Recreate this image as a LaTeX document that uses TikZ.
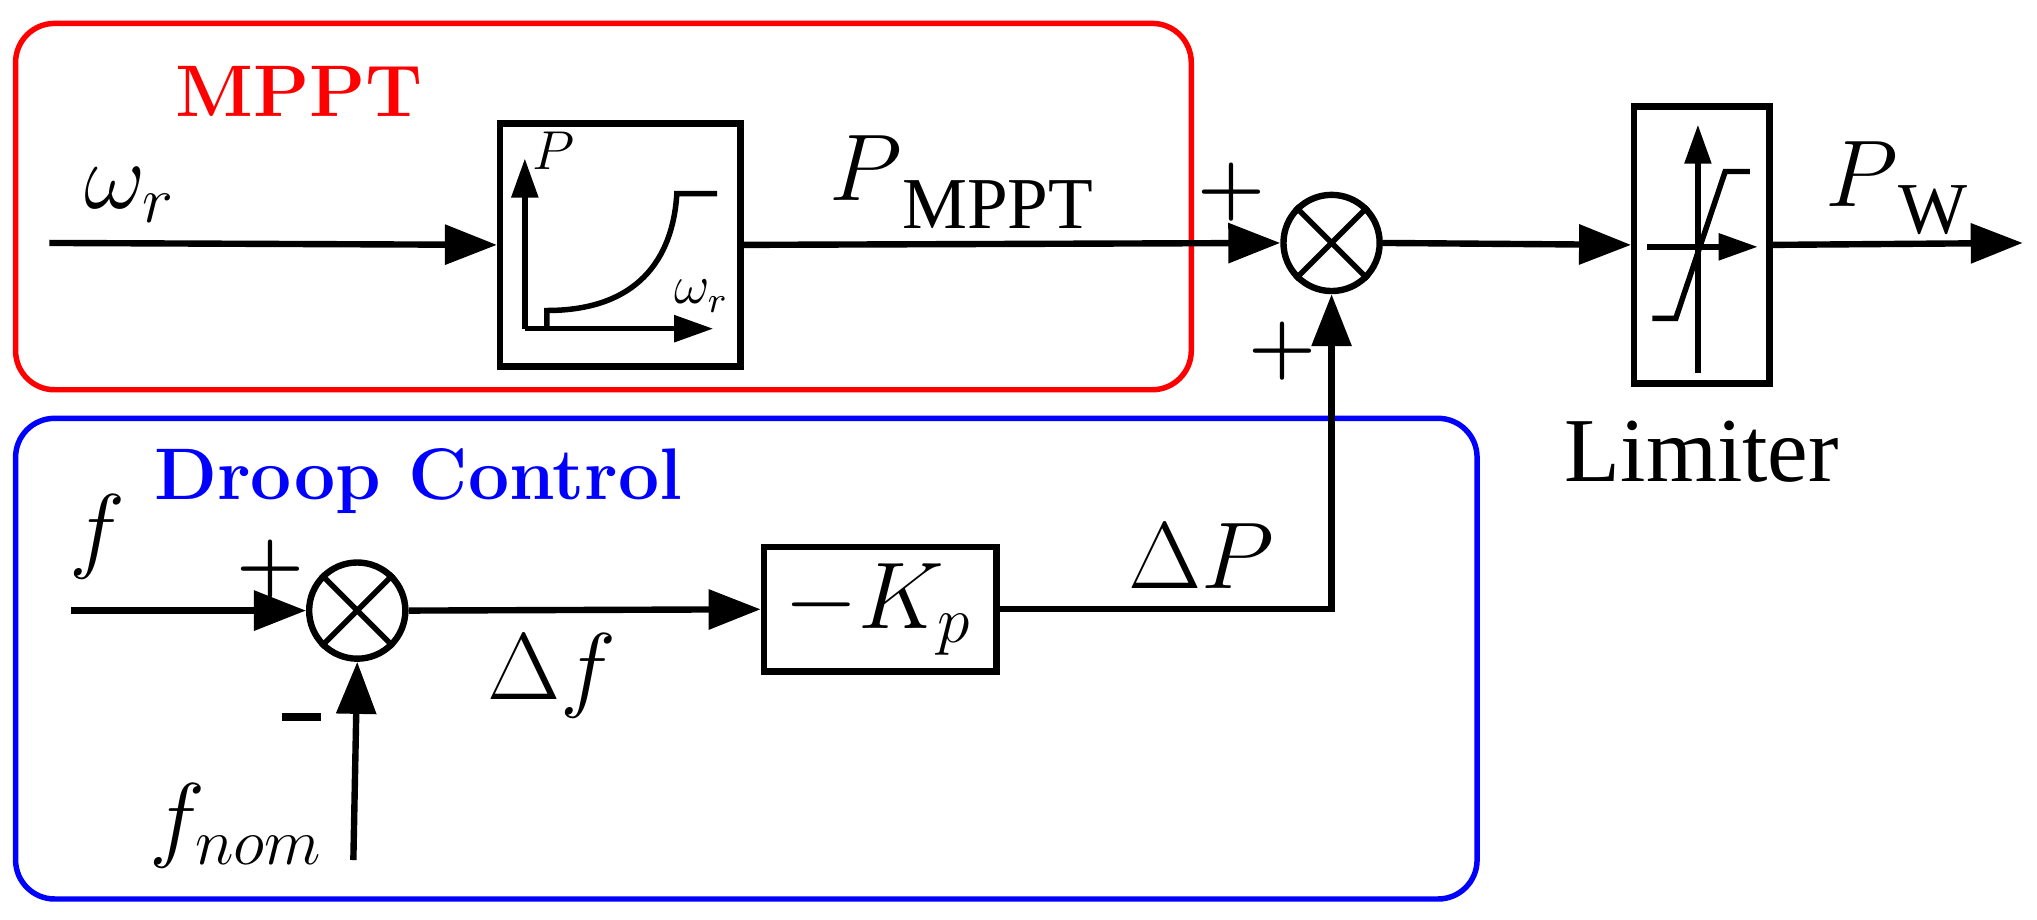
\documentclass[tikz,border=0pt]{standalone}
\usepackage{fontspec}
\newfontfamily\lib{Liberation Serif}
\usetikzlibrary{arrows.meta}
\begin{document}
\begin{tikzpicture}[x=0.01cm,y=-0.01cm,
  ln/.style={line width=1.4pt},
  ar/.style={ln,-{Triangle[length=0.4cm,width=0.3cm]}},
  sar/.style={line width=1.2pt,-{Triangle[length=0.3cm,width=0.2cm]}},
  blk/.style={draw,line width=1.4pt,inner sep=0pt},
  sum/.style={draw,circle,line width=1.4pt,minimum size=0.74cm,inner sep=0pt},
  big/.style={font=\fontsize{20}{22}\selectfont},
  sgn/.style={font=\fontsize{17}{19}\selectfont\bfseries}]
\useasboundingbox (0,0) rectangle (1568,708);
\draw[red,line width=1.2pt,rounded corners=0.3cm] (12,18) rectangle (917,300);
\draw[blue,line width=1.2pt,rounded corners=0.3cm] (12,322) rectangle (1137,692);
\node[red,font=\fontsize{16}{18}\selectfont\bfseries] (tm) at (230,70) {MPPT};
\node[blue,font=\fontsize{16}{18}\selectfont\bfseries] (td) at (322,370) {Droop Control};
% MPPT path
\coordinate (in1) at (38,187);
\node[blk,minimum width=1.85cm,minimum height=1.87cm] (lut) at (477.5,188.5) {};
\draw[ar] (in1) -- (lut.west);
\node[big] (lw) at (100,150) {$\omega_r$};
\coordinate (o) at (404,253);
\draw[sar] (o) -- (404,122);
\draw[sar] (o) -- (549,253);
\draw[line width=1.2pt] (421,253) -- (421,239) .. controls (490,239) and (518,200) .. (521,149) -- (552,149);
\node[font=\fontsize{12}{13}\selectfont] (lp) at (426,116) {$P$};
\node[font=\fontsize{12}{13}\selectfont] (lwr) at (540,228) {$\omega_r$};
\node[sum] (s1) at (1025,187) {};
\draw[line width=1.2pt] (s1.north west) -- (s1.south east) (s1.north east) -- (s1.south west);
\draw[ar] (lut.east) -- (s1.west);
\node[big] (lpm) at (740,140) {$P$\raisebox{-0.7ex}{\fontsize{16}{18}\selectfont\lib MPPT}};
\node[sgn] (p1) at (948,148) {+};
\node[sgn] (p2) at (987,270) {+};
\node[blk,minimum width=1.04cm,minimum height=2.13cm] (lim) at (1310,188.5) {};
\draw[ar] (s1.east) -- (lim.west);
\coordinate (out) at (1557,187);
\draw[ar] (lim.east) -- (out);
\draw[sar] (1307,287) -- (1307,96);
\draw[sar] (1268,190) -- (1353,190);
\draw[line width=1.2pt] (1272,245) -- (1290,245) -- (1328,132) -- (1347,132);
\node[big] (lpw) at (1460,145) {$P$\raisebox{-0.7ex}{\fontsize{16}{18}\selectfont\lib W}};
\node[font=\fontsize{20}{22}\selectfont\lib] (ll) at (1310,348) {Limiter};
% droop
\coordinate (in2) at (55,470);
\node[sum] (s2) at (275,470) {};
\draw[line width=1.2pt] (s2.north west) -- (s2.south east) (s2.north east) -- (s2.south west);
\draw[ar] (in2) -- (s2.west);
\node[big] (lf) at (75,413) {$f$};
\node[sgn] (p3) at (208,438) {+};
\node[inner sep=0pt] (m1) at (232,552) {};
\draw[line width=1.8pt] (217,552) -- (247,552);
\coordinate (fn) at (272,662);
\draw[ar] (fn) -- (s2.south);
\node[big] (lfn) at (182,636) {$f_{nom}$};
\node[blk,minimum width=1.79cm,minimum height=0.96cm] (kp) at (677.5,469) {};
\node[big] (lkp) at (676,469) {$-K_p$};
\draw[ar] (s2.east) -- (kp.west);
\node[big] (ldf) at (425,520) {$\Delta f$};
\node[big] (ldp) at (925,428) {$\Delta P$};
\draw[ar] (kp.east) -- (1025,469) -- (s1.south);
\end{tikzpicture}
\end{document}
